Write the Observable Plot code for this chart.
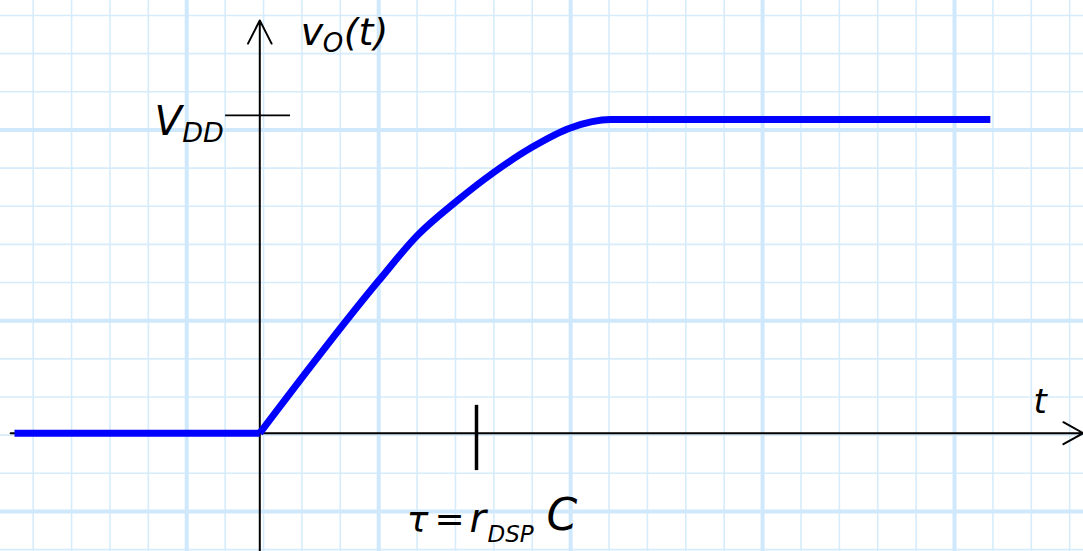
<!DOCTYPE html>
<html>
<head>
<meta charset="utf-8">
<script src="https://cdn.jsdelivr.net/npm/d3@7"></script>
<script src="https://cdn.jsdelivr.net/npm/@observablehq/plot@0.6"></script>
<style>
  html, body { margin: 0; padding: 0; background: #fff; overflow: hidden; }
</style>
</head>
<body>
<div id="chart"></div>
<script>
// Units are graph-paper squares; the origin is where the two axes cross.

// Output held low before the switch closes
const tOff = [-6.39, 0];
const vOff = [0, 0];

// Output charging up towards VDD
const tCharge = [0, 3.10, 4.10, 5.10, 6.10, 7.10, 8.09, 9.14, 19.03];
const vCharge = [0, 4.00, 5.18, 6.06, 6.84, 7.50, 8.00, 8.22, 8.22];

// Marked levels and times
const VDD = 8.33;
const tau = 5.645;

// Axis extents
const tAxis = [-6.49, 21.45];
const vAxis = [-3.10, 10.82];

// Graph-paper rulings (every fifth one is heavier)
const gridT = d3.range(0, 28).map(k => -5.903 + k);
const gridV = d3.range(0, 15).map(k => 10.949 - k);
const majorT = gridT.filter((_, k) => k % 5 === 4);
const majorV = gridV.filter((_, k) => k % 5 === 3);

const waveform = [
  ...tOff.map((t, i) => ({t, v: vOff[i], phase: "off"})),
  ...tCharge.map((t, i) => ({t, v: vCharge[i], phase: "charge"}))
];

const font = "DejaVu Sans";
const label = (text, anchor, opts) => Plot.text([anchor], {
  x: "x", y: "y", text: () => text,
  fontFamily: font, fontStyle: "italic", fill: "black",
  lineAnchor: "bottom", textAnchor: "start", ...opts
});

const yTop = {x: 0, y: vAxis[1]};
const vddPt = {x: 0, y: VDD};
const tauPt = {x: tau, y: 0};
const tEnd = {x: tAxis[1], y: 0};

const chart = Plot.plot({
  width: 1083,
  height: 551,
  margin: 0,
  style: {background: "#fff"},
  x: {domain: [-6.7544, 21.4567], axis: null},
  y: {domain: [-3.1009, 11.342], axis: null},
  marks: [
    Plot.ruleX(gridT, {stroke: "#d6ecfb", strokeWidth: 1.6}),
    Plot.ruleY(gridV, {stroke: "#d6ecfb", strokeWidth: 1.6}),
    Plot.ruleX(majorT, {stroke: "#cfe8fb", strokeWidth: 4}),
    Plot.ruleY(majorV, {stroke: "#cfe8fb", strokeWidth: 4}),

    // axes with open arrowheads
    Plot.arrow([0], {x1: tAxis[0], y1: 0, x2: tAxis[1], y2: 0,
      stroke: "black", strokeWidth: 2, headLength: 17, headAngle: 58}),
    Plot.arrow([0], {x1: 0, y1: vAxis[0], x2: 0, y2: vAxis[1],
      stroke: "black", strokeWidth: 2, headLength: 19.5, headAngle: 54}),

    // VDD and tau markers
    Plot.ruleY([VDD], {x1: -0.89, x2: 0.80, stroke: "black", strokeWidth: 1.6}),
    Plot.ruleX([tau], {y1: -0.98, y2: 0.73, stroke: "black", strokeWidth: 3.5}),

    // output voltage
    Plot.line(waveform.filter(d => d.phase === "off"), {
      x: "t", y: "v", stroke: "#0000ff", strokeWidth: 7, strokeLinecap: "butt"
    }),
    Plot.line(waveform.filter(d => d.phase === "charge"), {
      x: "t", y: "v", stroke: "#0000ff", strokeWidth: 7, strokeLinecap: "butt",
      strokeLinejoin: "round", curve: "monotone-x"
    }),

    // v_O(t)
    label("v", yTop, {dx: 41, dy: 25, fontSize: 38}),
    label("O", yTop, {dx: 63, dy: 32, fontSize: 26}),
    label("(t)", yTop, {dx: 84, dy: 25, fontSize: 38}),

    // V_DD
    label("V", vddPt, {dx: -78, dy: 20, fontSize: 40, textAnchor: "end"}),
    label("DD", vddPt, {dx: -36, dy: 27, fontSize: 27, textAnchor: "end"}),

    // t
    label("t", tEnd, {dx: -43, dy: -20, fontSize: 34, textAnchor: "middle"}),

    // tau = r_DSP C
    label("τ", tauPt, {dx: -59, dy: 99, fontSize: 36, textAnchor: "middle"}),
    label("=", tauPt, {dx: -27, dy: 98, fontSize: 36, textAnchor: "middle", fontStyle: "normal"}),
    label("r", tauPt, {dx: -7, dy: 99, fontSize: 40}),
    label("DSP", tauPt, {dx: 11, dy: 109, fontSize: 23}),
    label("C", tauPt, {dx: 70, dy: 97, fontSize: 44})
  ]
});

document.getElementById("chart").append(chart);
</script>
</body>
</html>
